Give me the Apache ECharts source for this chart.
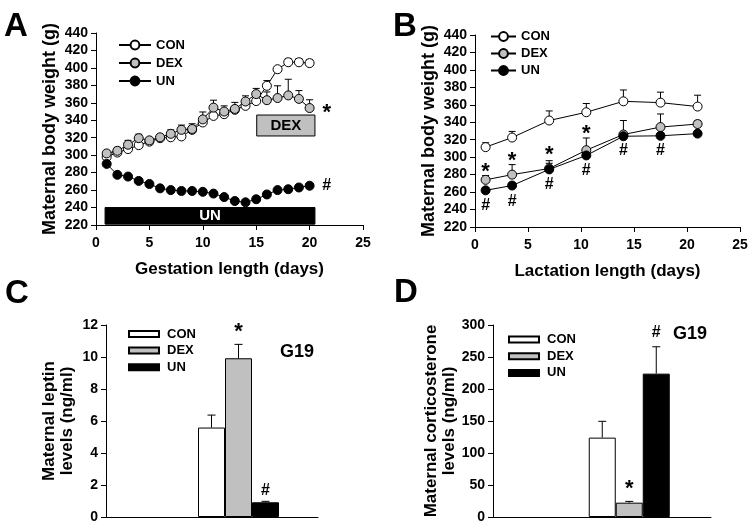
<!DOCTYPE html>
<html><head><meta charset="utf-8">
<script src="https://cdn.jsdelivr.net/npm/echarts@6/dist/echarts.min.js"></script>
<style>html,body{margin:0;padding:0;background:#fff}#c{width:755px;height:526px}</style>
</head><body><div id="c"></div>
<script>
// ---------- DATA ----------
const groups = ['CON', 'DEX', 'UN'];
// Panel A: gestation
const gestDays = [1,2,3,4,5,6,7,8,9,10,11,12,13,14,15,16,17,18,19,20];
const gestCON = [298,303,307,311.5,315.5,319.5,320.5,321.5,329,337.5,345,347,352,356.5,362,379.5,398.5,406.5,406.5,405.5];
const gestDEX = [302,305,312,319.5,317,320.5,324.5,329,330,341,354.5,350,353,361.5,370,363,365.5,368.5,364.5,354];
const gestUN  = [290,277.5,275.5,270.5,267,262,260,259,259,258,256,252,247.5,246,249.5,255,260,261,263,265];
const gestCONerr = [3,3,3,3,3,3,3,3,3,3,4,4,4,4,4,6,3,4,4,4];
const gestDEXerr = [3,4,5,4.5,3,3,4.5,5.5,6,8.5,8.5,6.5,7.5,6.5,6.5,9.5,14,18.5,9.5,9.5];
const gestUNerr  = [2,2,2,2,2,2,2,2,2,2,2,2,2,2,2,2,2,2,2,2];
const dexPeriod = [15.05, 20.5];   // days
const dexBand = [322, 346];        // g (label box)
const unPeriod = [0.85, 20.5];
const unBand = [221, 240];
const gestMarks = [[21.6, 354, '*'], [21.6, 265, '#']];
// Panel B: lactation
const lactDays = [1,3.5,7,10.5,14,17.5,21];
const lactCON = [311.5,322.5,342,351.5,364,362.5,358];
const lactDEX = [274,280,287,308,326,334.5,338];
const lactUN  = [262,267.5,286,302,324,324.5,327];
const lactCONerr = [5,7,11,10,13,12,13];
const lactDEXerr = [5,11.5,9,14,16,15,4];
const lactUNerr  = [3,3,7,4,3,3,3];
const lactStars = [[1,289],[3.5,301.5],[7,308],[10.5,332]];
const lactHashes = [[1,245],[3.5,249.5],[7,269],[10.5,285],[14,308],[17.5,308]];
// Panel C / D: G19 hormone levels
const barCats = ['','','','','','G19','','',''];
const leptin = [5.59, 9.92, 0.92];
const leptinErr = [0.78, 0.87, 0.06];
const leptinMarks = [[1, 11.9, '*'], [2, 1.63, '#']];   // [group index, y, text]
const cort = [124, 22.4, 224];
const cortErr = [25.5, 2, 42];
const cortMarks = [[1, 52.2, '*'], [2, 288, '#']];
// tick settings
const bwTicks = {min:220, max:440, interval:20};
const dayTicks = {min:0, max:25, interval:5};
const leptinTicks = {min:0, max:12, interval:2};
const cortTicks = {min:0, max:300, interval:50};

// ---------- STYLE ----------
const FONT = 'Liberation Sans, Arial, sans-serif';
const fills = {CON:'#ffffff', DEX:'#c0c0c0', UN:'#000000'};
const BW = 27;

const chart = echarts.init(document.getElementById('c'), null, {renderer:'canvas'});

function markText(p, t) {
  const star = t === '*';
  return {type:'text', x:p[0], y:p[1] + (star ? 5 : 0),
    style:{text:t, fill:'#000', font:'bold ' + (star ? 22 : 16) + 'px ' + FONT, align:'center', verticalAlign:'middle'}};
}
function lineSeries(panel, gi, name, xs, ys) {
  return {
    type:'line', name: panel + ':' + name, xAxisIndex: gi, yAxisIndex: gi,
    data: xs.map((x,i)=>[x, ys[i]]), symbol:'circle', symbolSize:9,
    lineStyle:{color:'#000', width:1}, itemStyle:{color:fills[name], borderColor:'#000', borderWidth:1},
    z: 3
  };
}
function errSeries(gi, xs, ys, es) {
  return {
    type:'custom', xAxisIndex: gi, yAxisIndex: gi, z: 2, silent:true,
    data: xs.map((x,i)=>[x, ys[i], es[i]]), encode:{x:0, y:1},
    renderItem: function(params, api){
      const x = api.value(0), y = api.value(1), e = api.value(2);
      const p0 = api.coord([x, y]), p1 = api.coord([x, y+e]);
      return {type:'group', children:[
        {type:'line', shape:{x1:p0[0],y1:p0[1],x2:p1[0],y2:p1[1]}, style:{stroke:'#000',lineWidth:1}},
        {type:'line', shape:{x1:p1[0]-3.5,y1:p1[1],x2:p1[0]+3.5,y2:p1[1]}, style:{stroke:'#000',lineWidth:1}}
      ]};
    }
  };
}
function textSeries(gi, rows) {
  return {
    type:'custom', xAxisIndex: gi, yAxisIndex: gi, z: 5, silent:true,
    data: rows, encode:{x:0, y:1},
    renderItem: function(params, api){
      const r = rows[params.dataIndex];
      return markText(api.coord([r[0], r[1]]), r[2]);
    }
  };
}
function barSeries(panel, gi, name, idx, vals) {
  return {
    type:'bar', name: panel + ':' + name, xAxisIndex: gi, yAxisIndex: gi,
    data: barCats.map(c => c==='G19' ? vals[idx] : '-'),
    barWidth: BW, barGap:'0%',
    itemStyle:{color:fills[name], borderColor:'#000', borderWidth:1}
  };
}
function barErrSeries(gi, vals, errs, marks) {
  const ci = barCats.indexOf('G19');
  return {
    type:'custom', xAxisIndex: gi, yAxisIndex: gi, z: 4, silent:true,
    data: vals.map((v,i)=>[ci, v, errs[i], i]), encode:{x:0, y:1},
    renderItem: function(params, api){
      const i = params.dataIndex;
      const v = vals[i], e = errs[i];
      const p0 = api.coord([ci, v]), p1 = api.coord([ci, v+e]);
      const dx = (i-1)*BW;
      const ch = [
        {type:'line', shape:{x1:p0[0]+dx,y1:p0[1],x2:p1[0]+dx,y2:p1[1]}, style:{stroke:'#000',lineWidth:1}},
        {type:'line', shape:{x1:p1[0]+dx-4,y1:p1[1],x2:p1[0]+dx+4,y2:p1[1]}, style:{stroke:'#000',lineWidth:1}}
      ];
      marks.filter(m=>m[0]===i).forEach(m=>{
        const p = api.coord([ci, m[1]]);
        ch.push(markText([p[0]+dx, p[1]], m[2]));
      });
      return {type:'group', children: ch};
    }
  };
}

const tickLabel = {color:'#000', fontWeight:'bold', fontSize:14, fontFamily:FONT};
const axisLine = {show:true, lineStyle:{color:'#000', width:1}};
const axisTick = {show:true, length:5, lineStyle:{color:'#000'}};
const nameStyle = {color:'#000', fontWeight:'bold', fontSize:17, fontFamily:FONT};

function valX(gi, name) {
  return {type:'value', gridIndex:gi, ...dayTicks, axisLine, axisTick, splitLine:{show:false},
    axisLabel:{...tickLabel, margin:11}, name, nameLocation:'middle', nameGap:36, nameTextStyle:nameStyle};
}
function valY(gi, ticks, name, gap, lh) {
  return {type:'value', gridIndex:gi, ...ticks, axisLine, axisTick, splitLine:{show:false},
    axisLabel:{...tickLabel, margin:8}, name, nameLocation:'middle', nameGap:gap,
    nameTextStyle:{...nameStyle, fontSize: lh ? 17 : 18, lineHeight: lh || 20}};
}
function catX(gi) {
  return {type:'category', gridIndex:gi, data:barCats, boundaryGap:false, axisLine,
    axisTick:{show:false}, axisLabel:{show:false}, splitLine:{show:false}};
}
const legendText = {color:'#000', fontWeight:'bold', fontSize:13, fontFamily:FONT};
const fmt = n => n.split(':')[1];

const option = {
  animation:false,
  backgroundColor:'#fff',
  grid:[
    {left:96, top:33, width:267, height:192},
    {left:475, top:35, width:265, height:192},
    {left:106, top:325, width:212, height:192},
    {left:493, top:325, width:218, height:192}
  ],
  xAxis:[ valX(0,'Gestation length (days)'), valX(1,'Lactation length (days)'), catX(2), catX(3) ],
  yAxis:[
    valY(0, bwTicks, 'Maternal body weight (g)', 36),
    valY(1, bwTicks, 'Maternal body weight (g)', 36),
    valY(2, leptinTicks, 'Maternal leptin\nlevels (ng/ml)', 30, 17.5),
    valY(3, cortTicks, 'Maternal corticosterone\nlevels (ng/ml)', 35, 17.5)
  ],
  legend:[
    {data: groups.map(g=>'A:'+g), orient:'vertical', left:113, top:33.5, itemWidth:32, itemHeight:11, itemGap:5, formatter:fmt, textStyle:legendText, selectedMode:false},
    {data: groups.map(g=>'B:'+g), orient:'vertical', left:485, top:25, itemWidth:25, itemHeight:11, itemGap:4, formatter:fmt, textStyle:legendText, selectedMode:false},
    {data: groups.map(g=>'C:'+g), orient:'vertical', left:123, top:322.5, itemWidth:30, itemHeight:6, itemGap:3.6, icon:'rect', formatter:fmt, textStyle:{...legendText, padding:[0,0,0,3]}, selectedMode:false},
    {data: groups.map(g=>'D:'+g), orient:'vertical', left:503, top:328, itemWidth:30, itemHeight:6, itemGap:3.7, icon:'rect', formatter:fmt, textStyle:{...legendText, padding:[0,0,0,3]}, selectedMode:false}
  ],
  graphic:[
    {type:'text', left:4, top:10, style:{text:'A', font:'bold 33px '+FONT, fill:'#000'}},
    {type:'text', left:393, top:10, style:{text:'B', font:'bold 33px '+FONT, fill:'#000'}},
    {type:'text', left:5, top:277, style:{text:'C', font:'bold 33px '+FONT, fill:'#000'}},
    {type:'text', left:394, top:276, style:{text:'D', font:'bold 33px '+FONT, fill:'#000'}},
    {type:'text', left:280, top:343, style:{text:'G19', font:'bold 18px '+FONT, fill:'#000'}},
    {type:'text', left:673, top:325, style:{text:'G19', font:'bold 18px '+FONT, fill:'#000'}}
  ],
  series:[
    errSeries(0, gestDays, gestCON, gestCONerr),
    errSeries(0, gestDays, gestDEX, gestDEXerr),
    errSeries(0, gestDays, gestUN, gestUNerr),
    Object.assign(lineSeries('A',0,'CON',gestDays,gestCON), {
      markArea:{silent:true, data:[
        [{xAxis:dexPeriod[0], yAxis:dexBand[1], itemStyle:{color:'#c0c0c0', borderColor:'#000', borderWidth:1, opacity:1},
          label:{show:true, position:'inside', formatter:'DEX', color:'#000', fontWeight:'bold', fontSize:15, fontFamily:FONT}},
         {xAxis:dexPeriod[1], yAxis:dexBand[0]}],
        [{xAxis:unPeriod[0], yAxis:unBand[1], itemStyle:{color:'#000', borderColor:'#000', borderWidth:1, opacity:1},
          label:{show:true, position:'inside', formatter:'UN', color:'#fff', fontWeight:'bold', fontSize:15, fontFamily:FONT}},
         {xAxis:unPeriod[1], yAxis:unBand[0]}]
      ]}
    }),
    lineSeries('A',0,'DEX',gestDays,gestDEX),
    lineSeries('A',0,'UN',gestDays,gestUN),
    textSeries(0, gestMarks),
    errSeries(1, lactDays, lactCON, lactCONerr),
    errSeries(1, lactDays, lactDEX, lactDEXerr),
    errSeries(1, lactDays, lactUN, lactUNerr),
    lineSeries('B',1,'CON',lactDays,lactCON),
    lineSeries('B',1,'DEX',lactDays,lactDEX),
    lineSeries('B',1,'UN',lactDays,lactUN),
    textSeries(1, lactStars.map(p=>[p[0],p[1],'*']).concat(lactHashes.map(p=>[p[0],p[1],'#']))),
    barSeries('C',2,'CON',0,leptin),
    barSeries('C',2,'DEX',1,leptin),
    barSeries('C',2,'UN',2,leptin),
    barErrSeries(2, leptin, leptinErr, leptinMarks),
    barSeries('D',3,'CON',0,cort),
    barSeries('D',3,'DEX',1,cort),
    barSeries('D',3,'UN',2,cort),
    barErrSeries(3, cort, cortErr, cortMarks)
  ]
};
chart.setOption(option);
</script></body></html>
